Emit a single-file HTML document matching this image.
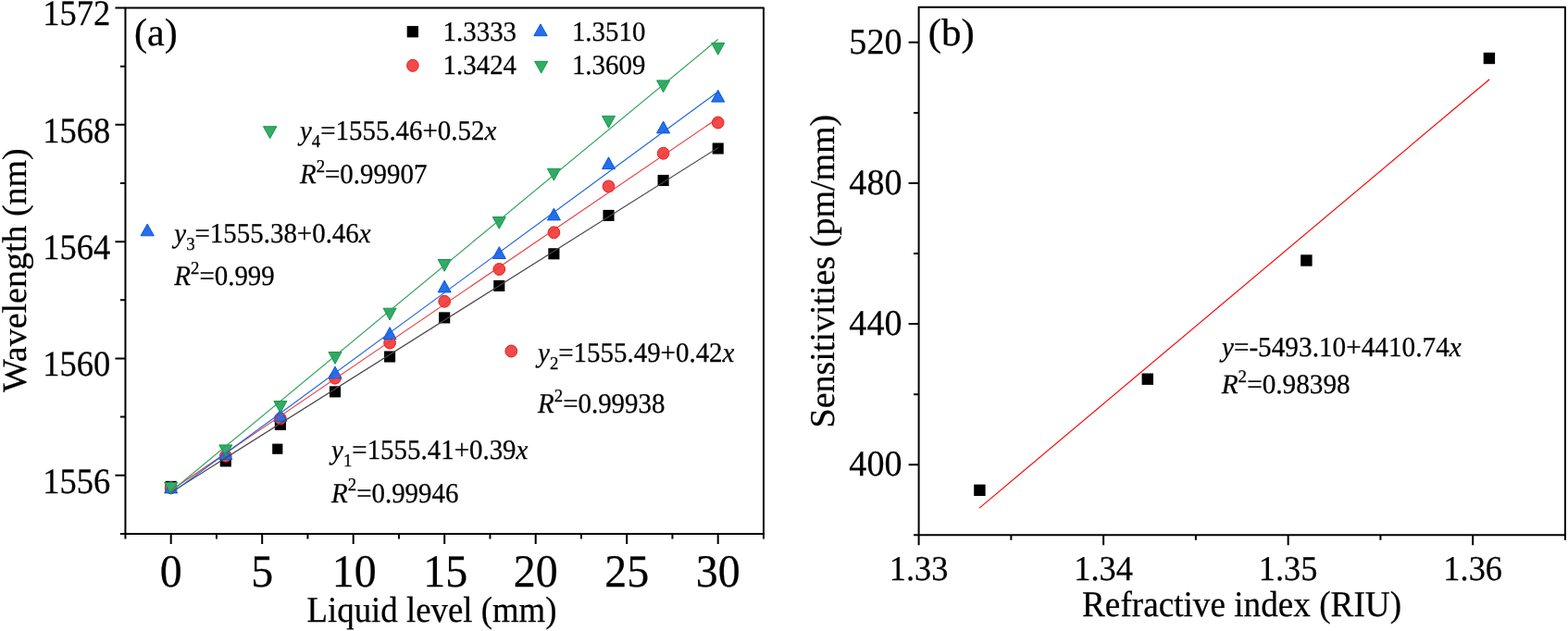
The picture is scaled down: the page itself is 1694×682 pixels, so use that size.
<!DOCTYPE html>
<html><head><meta charset="utf-8"><title>Figure</title>
<style>
html,body{margin:0;padding:0;background:#fff;}
body{width:1694px;height:682px;overflow:hidden;}
svg{display:block;}
text{font-family:'Liberation Serif','Times New Roman',serif;fill:#000;text-rendering:geometricPrecision;stroke:#000;stroke-width:0.25px;}
</style></head>
<body>
<svg width="1694" height="682" viewBox="0 0 1694 682">
<rect width="1694" height="682" fill="#fff"/>
<g id="shapes">
<rect x="178.65" y="519.85" width="12.10" height="12.10" fill="#000"/>
<rect x="237.75" y="492.35" width="12.10" height="12.10" fill="#000"/>
<rect x="296.85" y="452.85" width="12.10" height="12.10" fill="#000"/>
<rect x="355.95" y="417.35" width="12.10" height="12.10" fill="#000"/>
<rect x="415.05" y="379.45" width="12.10" height="12.10" fill="#000"/>
<rect x="474.15" y="337.35" width="12.10" height="12.10" fill="#000"/>
<rect x="533.25" y="302.85" width="12.10" height="12.10" fill="#000"/>
<rect x="592.35" y="268.25" width="12.10" height="12.10" fill="#000"/>
<rect x="651.45" y="226.85" width="12.10" height="12.10" fill="#000"/>
<rect x="710.55" y="188.95" width="12.10" height="12.10" fill="#000"/>
<rect x="769.65" y="154.45" width="12.10" height="12.10" fill="#000"/>
<rect x="294.20" y="479.60" width="11.20" height="11.20" fill="#000"/>
<ellipse cx="184.70" cy="527.20" rx="6.35" ry="6.45" fill="#f04a4a" stroke="#ec1e1e" stroke-width="1"/>
<ellipse cx="243.80" cy="492.80" rx="6.35" ry="6.45" fill="#f04a4a" stroke="#ec1e1e" stroke-width="1"/>
<ellipse cx="302.90" cy="452.40" rx="6.35" ry="6.45" fill="#f04a4a" stroke="#ec1e1e" stroke-width="1"/>
<ellipse cx="362.00" cy="408.70" rx="6.35" ry="6.45" fill="#f04a4a" stroke="#ec1e1e" stroke-width="1"/>
<ellipse cx="421.10" cy="370.60" rx="6.35" ry="6.45" fill="#f04a4a" stroke="#ec1e1e" stroke-width="1"/>
<ellipse cx="480.20" cy="325.70" rx="6.35" ry="6.45" fill="#f04a4a" stroke="#ec1e1e" stroke-width="1"/>
<ellipse cx="539.30" cy="291.00" rx="6.35" ry="6.45" fill="#f04a4a" stroke="#ec1e1e" stroke-width="1"/>
<ellipse cx="598.40" cy="251.30" rx="6.35" ry="6.45" fill="#f04a4a" stroke="#ec1e1e" stroke-width="1"/>
<ellipse cx="657.50" cy="201.40" rx="6.35" ry="6.45" fill="#f04a4a" stroke="#ec1e1e" stroke-width="1"/>
<ellipse cx="716.60" cy="165.70" rx="6.35" ry="6.45" fill="#f04a4a" stroke="#ec1e1e" stroke-width="1"/>
<ellipse cx="775.70" cy="132.50" rx="6.35" ry="6.45" fill="#f04a4a" stroke="#ec1e1e" stroke-width="1"/>
<polygon points="184.70,520.10 191.70,532.90 177.70,532.90" fill="#2570e8" stroke="#0b55e2" stroke-width="1" stroke-linejoin="round"/>
<polygon points="243.80,483.80 250.80,496.60 236.80,496.60" fill="#2570e8" stroke="#0b55e2" stroke-width="1" stroke-linejoin="round"/>
<polygon points="302.90,442.50 309.90,455.30 295.90,455.30" fill="#2570e8" stroke="#0b55e2" stroke-width="1" stroke-linejoin="round"/>
<polygon points="362.00,396.10 369.00,408.90 355.00,408.90" fill="#2570e8" stroke="#0b55e2" stroke-width="1" stroke-linejoin="round"/>
<polygon points="421.10,353.70 428.10,366.50 414.10,366.50" fill="#2570e8" stroke="#0b55e2" stroke-width="1" stroke-linejoin="round"/>
<polygon points="480.20,303.10 487.20,315.90 473.20,315.90" fill="#2570e8" stroke="#0b55e2" stroke-width="1" stroke-linejoin="round"/>
<polygon points="539.30,266.70 546.30,279.50 532.30,279.50" fill="#2570e8" stroke="#0b55e2" stroke-width="1" stroke-linejoin="round"/>
<polygon points="598.40,225.10 605.40,237.90 591.40,237.90" fill="#2570e8" stroke="#0b55e2" stroke-width="1" stroke-linejoin="round"/>
<polygon points="657.50,169.80 664.50,182.60 650.50,182.60" fill="#2570e8" stroke="#0b55e2" stroke-width="1" stroke-linejoin="round"/>
<polygon points="716.60,131.10 723.60,143.90 709.60,143.90" fill="#2570e8" stroke="#0b55e2" stroke-width="1" stroke-linejoin="round"/>
<polygon points="775.70,97.30 782.70,110.10 768.70,110.10" fill="#2570e8" stroke="#0b55e2" stroke-width="1" stroke-linejoin="round"/>
<polygon points="177.70,521.50 191.70,521.50 184.70,534.30" fill="#34ab66" stroke="#12994a" stroke-width="1" stroke-linejoin="round"/>
<polygon points="236.80,480.90 250.80,480.90 243.80,493.70" fill="#34ab66" stroke="#12994a" stroke-width="1" stroke-linejoin="round"/>
<polygon points="295.90,433.50 309.90,433.50 302.90,446.30" fill="#34ab66" stroke="#12994a" stroke-width="1" stroke-linejoin="round"/>
<polygon points="355.00,380.50 369.00,380.50 362.00,393.30" fill="#34ab66" stroke="#12994a" stroke-width="1" stroke-linejoin="round"/>
<polygon points="414.10,333.20 428.10,333.20 421.10,346.00" fill="#34ab66" stroke="#12994a" stroke-width="1" stroke-linejoin="round"/>
<polygon points="473.20,280.50 487.20,280.50 480.20,293.30" fill="#34ab66" stroke="#12994a" stroke-width="1" stroke-linejoin="round"/>
<polygon points="532.30,234.50 546.30,234.50 539.30,247.30" fill="#34ab66" stroke="#12994a" stroke-width="1" stroke-linejoin="round"/>
<polygon points="591.40,182.30 605.40,182.30 598.40,195.10" fill="#34ab66" stroke="#12994a" stroke-width="1" stroke-linejoin="round"/>
<polygon points="650.50,125.40 664.50,125.40 657.50,138.20" fill="#34ab66" stroke="#12994a" stroke-width="1" stroke-linejoin="round"/>
<polygon points="709.60,86.90 723.60,86.90 716.60,99.70" fill="#34ab66" stroke="#12994a" stroke-width="1" stroke-linejoin="round"/>
<polygon points="768.70,46.40 782.70,46.40 775.70,59.20" fill="#34ab66" stroke="#12994a" stroke-width="1" stroke-linejoin="round"/>
<g stroke-width="1.15" fill="none">
<line x1="184.70" y1="532.2" x2="775.70" y2="159.8" stroke="#454545"/>
<line x1="184.70" y1="530.1" x2="775.70" y2="127.7" stroke="#ee3a3a"/>
<line x1="184.70" y1="533.4" x2="775.70" y2="99.2" stroke="#1c64e4"/>
<line x1="184.70" y1="531.2" x2="775.70" y2="42.5" stroke="#2ea35a"/>
</g>
<rect x="439.70" y="28.10" width="12.30" height="12.30" fill="#000"/>
<polygon points="584.00,25.90 591.20,38.70 576.80,38.70" fill="#2570e8" stroke="#0b55e2" stroke-width="1" stroke-linejoin="round"/>
<ellipse cx="445.90" cy="70.80" rx="6.30" ry="6.55" fill="#f04a4a" stroke="#ec1e1e" stroke-width="1"/>
<polygon points="577.60,66.30 591.80,66.30 584.70,79.10" fill="#34ab66" stroke="#12994a" stroke-width="1" stroke-linejoin="round"/>
<polygon points="284.50,136.70 298.90,136.70 291.70,149.60" fill="#34ab66" stroke="#12994a" stroke-width="1" stroke-linejoin="round"/>
<polygon points="159.20,242.10 166.35,254.80 152.05,254.80" fill="#2570e8" stroke="#0b55e2" stroke-width="1" stroke-linejoin="round"/>
<ellipse cx="552.30" cy="379.50" rx="6.40" ry="6.50" fill="#f04a4a" stroke="#ec1e1e" stroke-width="1"/>
<line x1="1058.1" y1="549.1" x2="1609.2" y2="85.7" stroke="#ff0000" stroke-width="1.15"/>
<rect x="1052.20" y="523.60" width="12.40" height="12.40" fill="#000"/>
<rect x="1233.60" y="403.50" width="12.40" height="12.40" fill="#000"/>
<rect x="1405.20" y="275.30" width="12.40" height="12.40" fill="#000"/>
<rect x="1602.70" y="56.80" width="12.40" height="12.40" fill="#000"/>
<path d="M124.45 513.78H135.45M124.45 387.46H135.45M124.45 261.14H135.45M124.45 134.82H135.45M124.45 8.50H135.45M129.95 576.94H135.45M129.95 450.62H135.45M129.95 324.30H135.45M129.95 197.98H135.45M129.95 71.66H135.45M184.70 576.94V587.94M283.20 576.94V587.94M381.70 576.94V587.94M480.20 576.94V587.94M578.70 576.94V587.94M677.20 576.94V587.94M775.70 576.94V587.94M135.45 576.94V582.44M233.95 576.94V582.44M332.45 576.94V582.44M430.95 576.94V582.44M529.45 576.94V582.44M627.95 576.94V582.44M726.45 576.94V582.44M824.95 576.94V582.44M981.60 502.28H992.60M981.60 350.12H992.60M981.60 197.96H992.60M981.60 45.80H992.60M987.10 578.36H992.60M987.10 426.20H992.60M987.10 274.04H992.60M987.10 121.88H992.60M992.60 578.36V589.36M1192.13 578.36V589.36M1391.66 578.36V589.36M1591.19 578.36V589.36M1092.36 578.36V583.86M1291.89 578.36V583.86M1491.42 578.36V583.86M1690.95 578.36V583.86" stroke="#000" stroke-width="2.0" fill="none" stroke-linecap="butt"/>
<rect x="135.45" y="8.50" width="689.50" height="568.44" stroke="#000" stroke-width="2.0" fill="none" stroke-linejoin="round"/>
<rect x="992.60" y="7.76" width="698.35" height="570.60" stroke="#000" stroke-width="2.0" fill="none" stroke-linejoin="round"/>
</g>
<g id="texts">
<text id="ay1572" transform="translate(119.13 27.34) scale(0.9409 1)" font-size="38.78" text-anchor="end">1572</text>
<text id="ay1568" transform="translate(119.13 153.66) scale(0.9409 1)" font-size="38.78" text-anchor="end">1568</text>
<text id="ay1564" transform="translate(119.13 279.98) scale(0.9409 1)" font-size="38.78" text-anchor="end">1564</text>
<text id="ay1560" transform="translate(119.13 406.30) scale(0.9409 1)" font-size="38.78" text-anchor="end">1560</text>
<text id="ay1556" transform="translate(119.13 532.62) scale(0.9409 1)" font-size="38.78" text-anchor="end">1556</text>
<text id="ax0" transform="translate(184.70 633.97) scale(0.9628 1)" font-size="49.81" text-anchor="middle">0</text>
<text id="ax5" transform="translate(283.20 633.97) scale(0.9628 1)" font-size="49.81" text-anchor="middle">5</text>
<text id="ax10" transform="translate(382.70 633.97) scale(0.9628 1)" font-size="49.81" text-anchor="middle">10</text>
<text id="ax15" transform="translate(481.20 633.97) scale(0.9628 1)" font-size="49.81" text-anchor="middle">15</text>
<text id="ax20" transform="translate(578.70 633.97) scale(0.9628 1)" font-size="49.81" text-anchor="middle">20</text>
<text id="ax25" transform="translate(677.20 633.97) scale(0.9628 1)" font-size="49.81" text-anchor="middle">25</text>
<text id="ax30" transform="translate(775.70 633.97) scale(0.9628 1)" font-size="49.81" text-anchor="middle">30</text>
<text id="ta" transform="translate(144.98 49.35) scale(1.0006 1)" font-size="42.00">(a)</text>
<text id="xtitle_a" transform="translate(331.56 671.80) scale(0.9395 1)" font-size="39.20">Liquid level (mm)</text>
<text id="ytitle_a" transform="translate(27.53 424.00) rotate(-90) scale(1.0256 1)" font-size="37.04">Wavelength (nm)</text>
<text id="lg1" transform="translate(478.60 44.00) scale(0.9691 1)" font-size="29.81">1.3333</text>
<text id="lg2" transform="translate(617.91 44.00) scale(0.9691 1)" font-size="29.81">1.3510</text>
<text id="lg3" transform="translate(478.60 80.35) scale(0.9691 1)" font-size="29.81">1.3424</text>
<text id="lg4" transform="translate(617.91 80.35) scale(0.9691 1)" font-size="29.81">1.3609</text>
<text id="eq4" transform="translate(323.98 151.05) scale(0.9596 1)" font-size="30.15"><tspan font-style="italic">y</tspan><tspan font-size="19.60" dy="7.99">4</tspan><tspan dy="-7.99">=1555.46+0.52</tspan><tspan font-style="italic">x</tspan></text>
<text id="r24" transform="translate(323.98 198.11) scale(0.9596 1)" font-size="30.15"><tspan font-style="italic">R</tspan><tspan font-size="19.60" dy="-12.36">2</tspan><tspan dy="12.36">=0.99907</tspan></text>
<text id="eq3" transform="translate(188.30 261.99) scale(0.9596 1)" font-size="30.15"><tspan font-style="italic">y</tspan><tspan font-size="19.60" dy="7.99">3</tspan><tspan dy="-7.99">=1555.38+0.46</tspan><tspan font-style="italic">x</tspan></text>
<text id="r23" transform="translate(188.30 308.00) scale(0.9596 1)" font-size="30.15"><tspan font-style="italic">R</tspan><tspan font-size="19.60" dy="-12.36">2</tspan><tspan dy="12.36">=0.999</tspan></text>
<text id="eq2" transform="translate(581.06 390.75) scale(0.9596 1)" font-size="30.15"><tspan font-style="italic">y</tspan><tspan font-size="19.60" dy="7.99">2</tspan><tspan dy="-7.99">=1555.49+0.42</tspan><tspan font-style="italic">x</tspan></text>
<text id="r22" transform="translate(581.06 446.30) scale(0.9596 1)" font-size="30.15"><tspan font-style="italic">R</tspan><tspan font-size="19.60" dy="-12.36">2</tspan><tspan dy="12.36">=0.99938</tspan></text>
<text id="eq1" transform="translate(358.07 495.89) scale(0.9596 1)" font-size="30.15"><tspan font-style="italic">y</tspan><tspan font-size="19.60" dy="7.99">1</tspan><tspan dy="-7.99">=1555.41+0.39</tspan><tspan font-style="italic">x</tspan></text>
<text id="r21" transform="translate(358.07 542.60) scale(0.9596 1)" font-size="30.15"><tspan font-style="italic">R</tspan><tspan font-size="19.60" dy="-12.36">2</tspan><tspan dy="12.36">=0.99946</tspan></text>
<text id="by520" transform="translate(974.46 57.54) scale(0.9713 1)" font-size="39.20" text-anchor="end">520</text>
<text id="by480" transform="translate(974.46 209.70) scale(0.9713 1)" font-size="39.20" text-anchor="end">480</text>
<text id="by440" transform="translate(974.46 361.86) scale(0.9713 1)" font-size="39.20" text-anchor="end">440</text>
<text id="by400" transform="translate(974.46 514.02) scale(0.9713 1)" font-size="39.20" text-anchor="end">400</text>
<text id="bx1.33" transform="translate(992.60 626.75) scale(0.9632 1)" font-size="37.80" text-anchor="middle">1.33</text>
<text id="bx1.34" transform="translate(1192.13 626.75) scale(0.9632 1)" font-size="37.80" text-anchor="middle">1.34</text>
<text id="bx1.35" transform="translate(1391.66 626.75) scale(0.9632 1)" font-size="37.80" text-anchor="middle">1.35</text>
<text id="bx1.36" transform="translate(1591.19 626.75) scale(0.9632 1)" font-size="37.80" text-anchor="middle">1.36</text>
<text id="tb" transform="translate(1002.69 49.20) scale(1.0275 1)" font-size="41.80">(b)</text>
<text id="xtitle_b" transform="translate(1169.05 666.40) scale(0.9494 1)" font-size="39.20">Refractive index (RIU)</text>
<text id="ytitle_b" transform="translate(901.05 462.50) rotate(-90) scale(1.0068 1)" font-size="37.74">Sensitivities (pm/mm)</text>
<text id="eqb" transform="translate(1319.89 384.65) scale(0.9670 1)" font-size="30.25"><tspan font-style="italic">y</tspan>=-5493.10+4410.74<tspan font-style="italic">x</tspan></text>
<text id="r2b" transform="translate(1319.75 425.31) scale(0.9886 1)" font-size="29.60"><tspan font-style="italic">R</tspan><tspan font-size="19.24" dy="-12.14">2</tspan><tspan dy="12.14">=0.98398</tspan></text>
</g>
</svg>
</body></html>
